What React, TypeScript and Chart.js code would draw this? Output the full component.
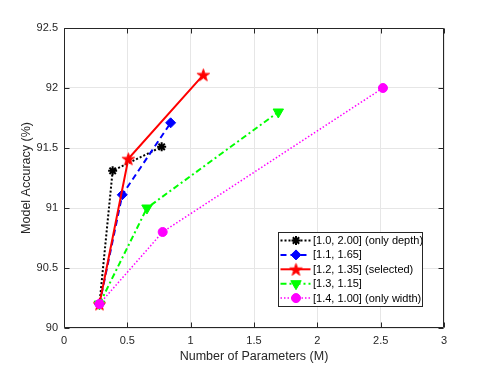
import React, { useEffect, useRef } from 'react';
import { Chart, registerables } from 'chart.js';
import { drawPoint } from 'chart.js/helpers';

Chart.register(...registerables);

// ---- data ----
const xTickStep = 0.5;
const xMin = 0;
const xMax = 3;
const yMin = 90;
const yMax = 92.5;
const yTickStep = 0.5;

const seriesLabels = [
  '[1.0, 2.00] (only depth)',
  '[1.1, 1.65]',
  '[1.2, 1.35] (selected)',
  '[1.3, 1.15]',
  '[1.4, 1.00] (only width)',
];

const depthParams = [0.28, 0.384, 0.771];
const depthAcc = [90.2, 91.31, 91.51];

const s165Params = [0.28, 0.46, 0.842];
const s165Acc = [90.2, 91.11, 91.71];

const selectedParams = [0.28, 0.508, 1.1];
const selectedAcc = [90.2, 91.41, 92.11];

const s115Params = [0.28, 0.655, 1.692];
const s115Acc = [90.2, 91.0, 91.8];

const widthParams = [0.28, 0.779, 2.518];
const widthAcc = [90.2, 90.8, 92.0];

const xTitle = 'Number of Parameters (M)';
const yTitle = 'Model Accuracy (%)';

const FONT = "'Liberation Sans', Arial, Helvetica, sans-serif";

function makePentagram(color: string, r: number) {
  const size = Math.ceil(r * 2 + 2);
  const c = document.createElement('canvas');
  c.width = size;
  c.height = size;
  const ctx = c.getContext('2d')!;
  const cx = size / 2;
  const cy = size / 2 + r * 0.1;
  const inner = r * 0.382;
  ctx.beginPath();
  for (let i = 0; i < 10; i++) {
    const rad = i % 2 === 0 ? r : inner;
    const a = -Math.PI / 2 + (i * Math.PI) / 5;
    const px = cx + rad * Math.cos(a);
    const py = cy + rad * Math.sin(a);
    if (i === 0) ctx.moveTo(px, py);
    else ctx.lineTo(px, py);
  }
  ctx.closePath();
  ctx.fillStyle = color;
  ctx.fill();
  ctx.strokeStyle = color;
  ctx.lineWidth = 1;
  ctx.stroke();
  return c;
}

const boxPlugin = {
  id: 'matlabBox',
  beforeDatasetsDraw(chart: any) {
    const { ctx, chartArea } = chart;
    const { left, right, top, bottom } = chartArea;
    const L = Math.round(left) + 0.5;
    const R = Math.round(right) - 0.5;
    const T = Math.round(top) + 0.5;
    const B = Math.round(bottom) - 0.5;
    ctx.save();
    ctx.strokeStyle = '#262626';
    ctx.lineWidth = 1;
    ctx.setLineDash([]);
    ctx.beginPath();
    ctx.rect(L, T, R - L, B - T);
    const tl = 5;
    chart.scales.x.ticks.forEach((t: any) => {
      const px = Math.round(chart.scales.x.getPixelForValue(t.value)) + 0.5;
      ctx.moveTo(px, B);
      ctx.lineTo(px, B - tl);
      ctx.moveTo(px, T);
      ctx.lineTo(px, T + tl);
    });
    chart.scales.y.ticks.forEach((t: any) => {
      const py = Math.round(chart.scales.y.getPixelForValue(t.value)) + 0.5;
      ctx.moveTo(L, py);
      ctx.lineTo(L + tl, py);
      ctx.moveTo(R, py);
      ctx.lineTo(R - tl, py);
    });
    ctx.stroke();
    ctx.restore();
  },
  afterDatasetsDraw(chart: any) {
    const { ctx, chartArea } = chart;
    const w = 144;
    const h = 74;
    const bx = Math.round(chartArea.right - 22 - w) + 0.5;
    const by = Math.round(chartArea.bottom - 22 - h) + 0.5;
    ctx.save();
    ctx.fillStyle = '#ffffff';
    ctx.fillRect(bx, by, w, h);
    ctx.strokeStyle = '#262626';
    ctx.lineWidth = 1;
    ctx.setLineDash([]);
    ctx.strokeRect(bx, by, w, h);
    const ds = chart.data.datasets;
    const rowH = 14.4;
    ds.forEach((d: any, i: number) => {
      const y = by + 8 + i * rowH;
      ctx.save();
      ctx.strokeStyle = d.borderColor;
      ctx.lineWidth = d.borderWidth;
      ctx.setLineDash(d.borderDash || []);
      ctx.beginPath();
      ctx.moveTo(bx + 2, y);
      ctx.lineTo(bx + 32, y);
      ctx.stroke();
      ctx.setLineDash([]);
      ctx.fillStyle = d.pointBackgroundColor;
      ctx.strokeStyle = d.pointBorderColor;
      ctx.lineWidth = d.pointBorderWidth;
      drawPoint(ctx, {
        pointStyle: d.pointStyle,
        rotation: d.pointRotation || 0,
        radius: d.pointRadius,
        borderWidth: d.pointBorderWidth,
      } as any, bx + 17.5, y);
      ctx.restore();
      ctx.fillStyle = '#000000';
      ctx.font = `11px ${FONT}`;
      ctx.textBaseline = 'middle';
      ctx.textAlign = 'left';
      ctx.fillText(d.label, bx + 34.5, y + 0.5);
    });
    ctx.restore();
  },
};

function pts(xs: number[], ys: number[]) {
  return xs.map((x, i) => ({ x, y: ys[i] }));
}

const fmt = (v: any) => `${Number(v)}`;

export default function App() {
  const ref = useRef<HTMLCanvasElement | null>(null);
  useEffect(() => {
    if (!ref.current) return;
    const star = makePentagram('#ff0000', 6.5);
    const common = { showLine: true, fill: false, tension: 0 };
    const chart = new Chart(ref.current, {
      type: 'scatter',
      data: {
        datasets: [
          {
            ...common,
            label: seriesLabels[0],
            data: pts(depthParams, depthAcc),
            borderColor: '#000000',
            borderWidth: 2,
            borderDash: [2, 2],
            pointStyle: 'star',
            pointRadius: 4.5,
            pointBorderWidth: 2,
            pointBackgroundColor: '#000000',
            pointBorderColor: '#000000',
            order: 4,
          },
          {
            ...common,
            label: seriesLabels[1],
            data: pts(s165Params, s165Acc),
            borderColor: '#0000ff',
            borderWidth: 2,
            borderDash: [6, 4],
            pointStyle: 'rectRot',
            pointRadius: 5,
            pointBorderWidth: 1,
            pointBackgroundColor: '#0000ff',
            pointBorderColor: '#0000ff',
            order: 3,
          },
          {
            ...common,
            label: seriesLabels[2],
            data: pts(selectedParams, selectedAcc),
            borderColor: '#ff0000',
            borderWidth: 2,
            borderDash: [],
            pointStyle: star,
            pointRadius: 6,
            pointBorderWidth: 1,
            pointBackgroundColor: '#ff0000',
            pointBorderColor: '#ff0000',
            order: 2,
          },
          {
            ...common,
            label: seriesLabels[3],
            data: pts(s115Params, s115Acc),
            borderColor: '#00ff00',
            borderWidth: 2,
            borderDash: [6, 3, 2, 3],
            pointStyle: 'triangle',
            pointRotation: 180,
            pointRadius: 6,
            pointBorderWidth: 1,
            pointBackgroundColor: '#00ff00',
            pointBorderColor: '#00ff00',
            order: 1,
          },
          {
            ...common,
            label: seriesLabels[4],
            data: pts(widthParams, widthAcc),
            borderColor: '#ff00ff',
            borderWidth: 1.5,
            borderDash: [1.5, 2],
            pointStyle: 'circle',
            pointRadius: 4.5,
            pointBorderWidth: 1,
            pointBackgroundColor: '#ff00ff',
            pointBorderColor: '#ff00ff',
            order: 0,
          },
        ] as any,
      },
      options: {
        animation: false,
        responsive: false,
        maintainAspectRatio: false,
        layout: { padding: { top: 28, right: 47, left: 0, bottom: 0 } },
        plugins: {
          legend: { display: false },
          tooltip: { enabled: false },
        },
        scales: {
          x: {
            type: 'linear',
            min: xMin,
            max: xMax,
            ticks: {
              stepSize: xTickStep,
              padding: 6,
              color: '#262626',
              maxRotation: 0,
              font: { family: FONT, size: 11 },
              callback: fmt,
            },
            grid: { color: '#e6e6e6', drawTicks: false },
            border: { display: false },
            title: {
              display: true,
              text: xTitle,
              color: '#262626',
              font: { family: FONT, size: 12.5 },
              padding: { top: 0, bottom: 3.5 },
            },
            afterFit: (s: any) => {
              s.height = 40;
            },
          },
          y: {
            type: 'linear',
            min: yMin,
            max: yMax,
            ticks: {
              stepSize: yTickStep,
              padding: 6,
              color: '#262626',
              font: { family: FONT, size: 11 },
              callback: fmt,
            },
            grid: { color: '#e6e6e6', drawTicks: false },
            border: { display: false },
            title: {
              display: true,
              text: yTitle,
              color: '#262626',
              font: { family: FONT, size: 12.5 },
              padding: { top: 19, bottom: 0 },
            },
            afterFit: (s: any) => {
              s.width = 64;
            },
          },
        },
      } as any,
      plugins: [boxPlugin],
    });
    return () => chart.destroy();
  }, []);
  return (
    <div style={{ position: 'fixed', left: 0, top: 0, width: 491, height: 368, background: '#fff' }}>
      <canvas ref={ref} width={491} height={368} style={{ display: 'block' }} />
    </div>
  );
}
